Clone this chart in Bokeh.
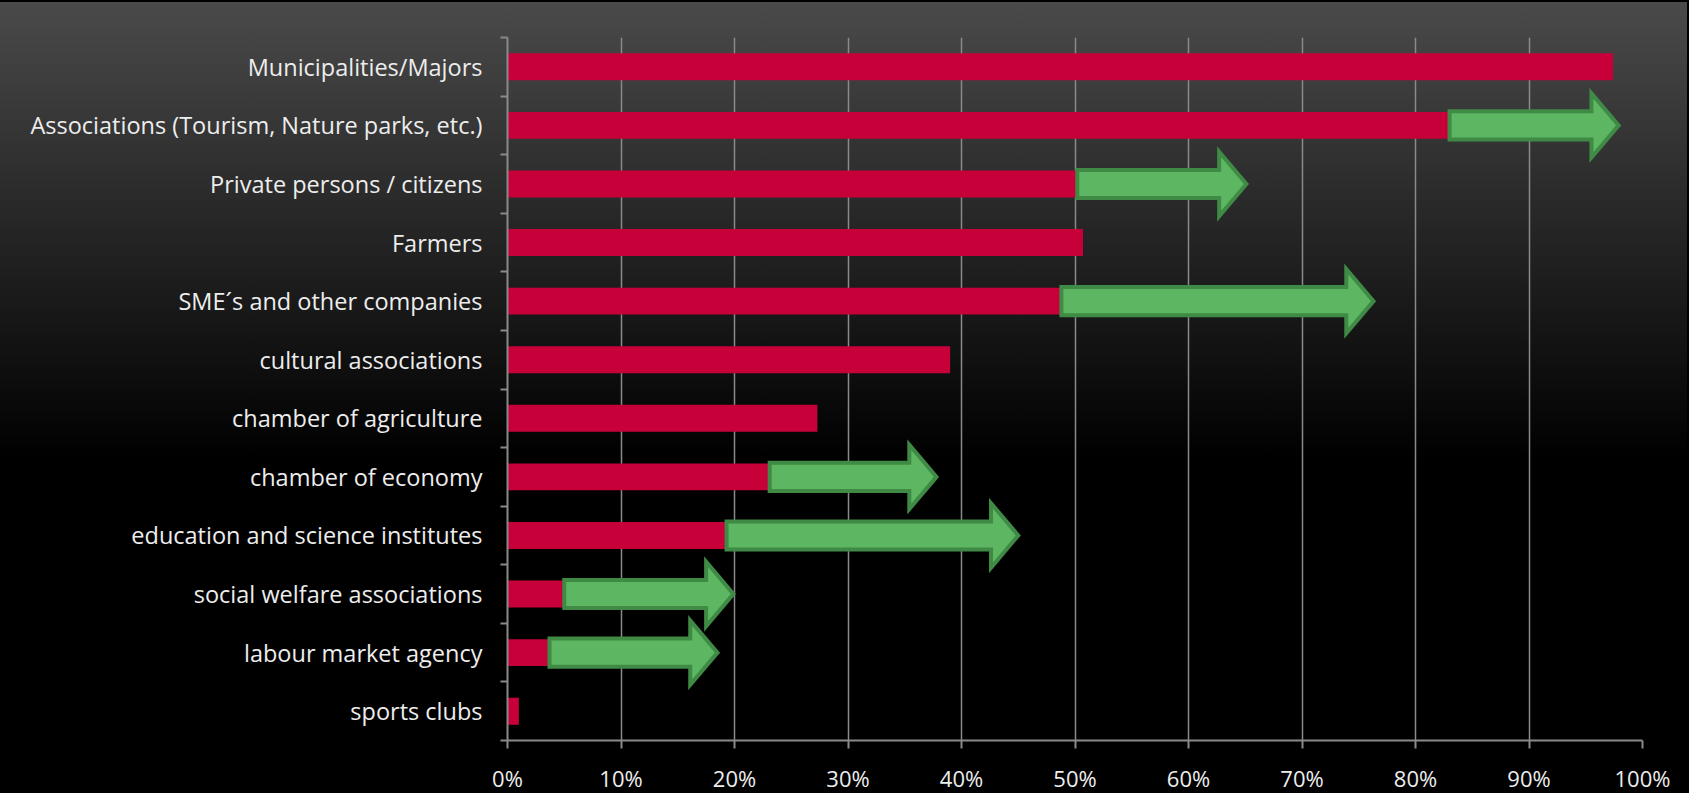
from bokeh.plotting import figure
from bokeh.models import FixedTicker, NumeralTickFormatter, ColumnDataSource, Range1d
from bokeh.embed import file_html
from bokeh.resources import INLINE

categories = [
    "Municipalities/Majors",
    "Associations (Tourism, Nature parks, etc.)",
    "Private persons / citizens",
    "Farmers",
    "SME\u00b4s and other companies",
    "cultural associations",
    "chamber of agriculture",
    "chamber of economy",
    "education and science institutes",
    "social welfare associations",
    "labour market agency",
    "sports clubs",
]
current_share = [0.974, 0.832, 0.504, 0.507, 0.490, 0.390, 0.273, 0.233, 0.195, 0.052, 0.039, 0.010]
expected_share = [None, 0.979, 0.651, None, 0.763, None, None, 0.378, 0.450, 0.199, 0.185, None]
x_ticks = [0.0, 0.1, 0.2, 0.3, 0.4, 0.5, 0.6, 0.7, 0.8, 0.9, 1.0]

RED = "#C8003A"
GREEN = "#5DB662"
GREEN_DARK = "#3F8A44"
GRID = "#8A8A8A"
TEXT = "#EDEDED"
FONT = "Open Sans"

n = len(categories)
ypos = [n - 1 - i for i in range(n)]

p = figure(width=1689, height=793, output_backend="svg", toolbar_location=None,
           x_range=Range1d(0, 1), y_range=Range1d(-0.5, n - 0.5),
           min_border_left=507, min_border_right=47, min_border_top=35, min_border_bottom=50)
p.background_fill_color = None
p.border_fill_color = None
p.outline_line_color = None
p.styles = {"background": "linear-gradient(180deg, #4a4a4a 0%, #2a2a2a 25%, #000000 58%, #000000 100%)",
            "border-top": "2px solid #000", "border-right": "2px solid #000"}

# bars
src = ColumnDataSource(dict(y=ypos, right=current_share))
p.hbar(y="y", left=0, right="right", height=0.46, source=src, fill_color=RED, line_color=None)

# arrows (from current to expected share)
overlap = 0.002
head_len = 0.024
shaft_h = 0.24
head_h = 0.55
xs, ys = [], []
for yv, start, end in zip(ypos, current_share, expected_share):
    if end is None:
        continue
    x0 = start - overlap
    xb = end - head_len
    xs.append([x0, xb, xb, end, xb, xb, x0])
    ys.append([yv + shaft_h, yv + shaft_h, yv + head_h, yv, yv - head_h, yv - shaft_h, yv - shaft_h])
p.patches(xs, ys, fill_color=GREEN, line_color=GREEN_DARK, line_width=4, line_join="miter")

# x axis
p.xaxis.ticker = FixedTicker(ticks=x_ticks)
p.xaxis.formatter = NumeralTickFormatter(format="0%")
p.xaxis.axis_line_color = GRID
p.xaxis.axis_line_width = 2
p.xaxis.major_tick_line_color = GRID
p.xaxis.major_tick_line_width = 2
p.xaxis.major_tick_out = 8
p.xaxis.major_tick_in = 0
p.xaxis.minor_tick_line_color = None
p.xaxis.major_label_text_color = TEXT
p.xaxis.major_label_text_font = FONT
p.xaxis.major_label_text_font_size = "22px"
p.xaxis.major_label_standoff = 14

# y axis
p.yaxis.ticker = FixedTicker(ticks=ypos, minor_ticks=[v - 0.5 for v in range(n + 1)])
p.yaxis.major_label_overrides = {yv: c for yv, c in zip(ypos, categories)}
p.yaxis.axis_line_color = GRID
p.yaxis.axis_line_width = 2
p.yaxis.major_tick_line_color = None
p.yaxis.minor_tick_line_color = GRID
p.yaxis.minor_tick_line_width = 2
p.yaxis.minor_tick_out = 7
p.yaxis.minor_tick_in = 0
p.yaxis.major_label_text_color = TEXT
p.yaxis.major_label_text_font = FONT
p.yaxis.major_label_text_font_size = "23.5px"
p.yaxis.major_label_standoff = 18

p.xgrid.ticker = FixedTicker(ticks=x_ticks)
p.xgrid.grid_line_color = GRID
p.xgrid.grid_line_width = 1.5
p.ygrid.visible = False

open("out.html", "w").write(file_html(p, INLINE))
